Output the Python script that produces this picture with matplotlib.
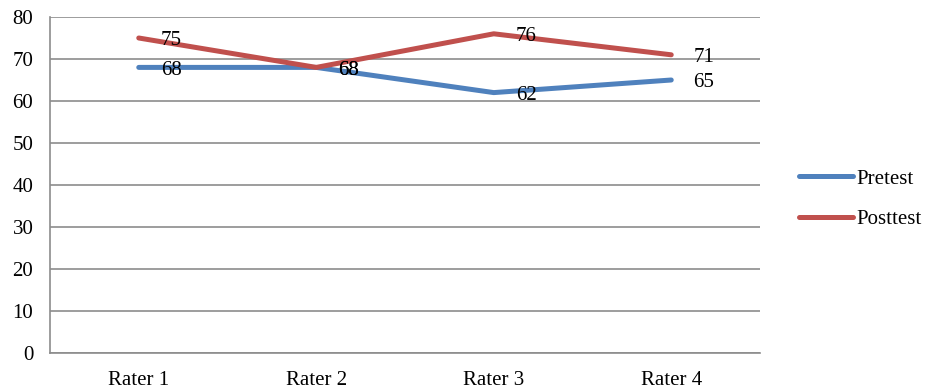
import matplotlib.pyplot as plt

raters = ["Rater 1", "Rater 2", "Rater 3", "Rater 4"]
pretest = [68, 68, 62, 65]
posttest = [75, 68, 76, 71]

plt.rcParams['font.family'] = ['Liberation Serif', 'DejaVu Serif']
fs = 15

fig = plt.figure(figsize=(9.28, 3.92), dpi=100)
ax = fig.add_axes([50 / 928, 1 - 353 / 392, 710 / 928, 336 / 392])

x = range(len(raters))
ax.plot(x, pretest, color='#4F81BD', lw=3.6, solid_capstyle='round', label='Pretest')
ax.plot(x, posttest, color='#C0504D', lw=3.6, solid_capstyle='round', label='Posttest')

# value labels to the right of each point
for series in (pretest, posttest):
    for xi, v in zip(x, series):
        ax.annotate(str(v), (xi, v), xytext=(16, -2), textcoords='offset points',
                    ha='left', va='center', fontsize=fs)

ax.set_xlim(-0.5, 3.5)
ax.set_ylim(0, 80)
ax.set_yticks(range(0, 81, 10))
ax.set_xticks(list(x))
ax.set_xticklabels(raters)
ax.grid(axis='y', color='#8c8c8c', lw=1.2)
ax.set_axisbelow(True)
for s in ['top', 'right']:
    ax.spines[s].set_visible(False)
for s in ['left', 'bottom']:
    ax.spines[s].set_color('#8c8c8c')
    ax.spines[s].set_linewidth(1.2)
ax.tick_params(axis='both', length=0, labelsize=fs, pad=12)
ax.tick_params(axis='x', pad=13)

fig.legend(loc='center left', bbox_to_anchor=(780 / 928, 1 - 199 / 392), frameon=False,
           fontsize=fs, handlelength=2.6, handletextpad=0.15, labelspacing=1.0)

fig.savefig('out.png', dpi=100)
